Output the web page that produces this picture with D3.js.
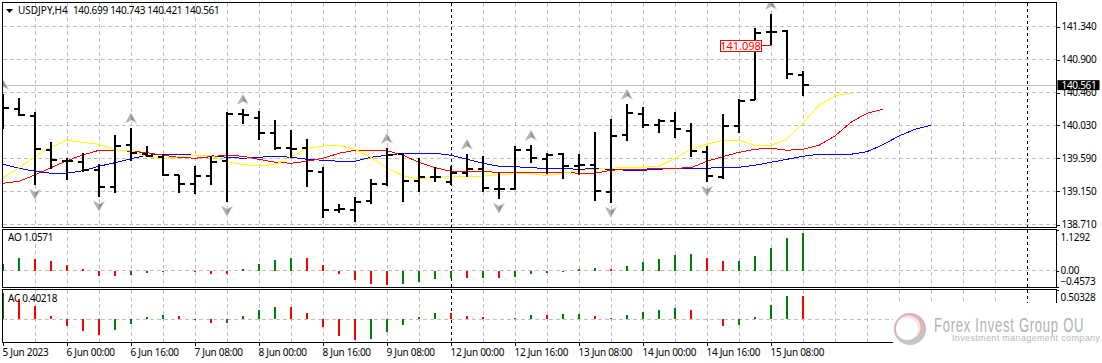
<!DOCTYPE html>
<meta charset="utf-8">
<title>USDJPY,H4</title>
<style>
html, body { margin: 0; padding: 0; background: #fff; overflow: hidden; }
svg { display: block; }
text { font-family: "Noto Sans", sans-serif; font-size: 10px; fill: #000; letter-spacing: -0.3px; }
.grid { stroke: #c0c0c0; stroke-dasharray: 4,3; shape-rendering: crispEdges; fill: none; }
.sep { stroke: #000; stroke-dasharray: 3,3; shape-rendering: crispEdges; }
.frame { fill: none; stroke: #000; shape-rendering: crispEdges; }
.bar line { stroke: #000; stroke-width: 2; shape-rendering: crispEdges; }
.ma { fill: none; stroke-width: 1; shape-rendering: crispEdges; }
.axis path { display: none; }
.axis line { stroke: #000; shape-rendering: crispEdges; }
</style>
<body>
<svg width="1102" height="363"></svg>
<script src="https://d3js.org/d3.v7.min.js"></script>
<script>

var symbol = "USDJPY,H4";

var opens = [140.260,140.248,140.156,139.704,139.558,139.545,139.438,139.213,139.770,139.651,139.611,139.372,139.252,139.359,139.558,140.182,140.129,139.922,139.727,139.727,139.412,138.907,138.907,139.027,139.252,139.651,139.292,139.345,139.279,139.399,139.452,139.186,139.186,139.696,139.576,139.643,139.492,139.505,139.146,139.903,140.182,140.036,140.089,139.956,139.677,139.345,140.023,140.364,141.263,141.276,140.699];
var highs = [140.437,140.391,140.205,139.806,139.594,139.660,139.514,139.899,139.992,139.753,139.651,139.372,139.488,139.624,140.201,140.240,140.214,140.096,139.966,139.842,139.470,138.987,139.072,139.315,139.723,139.656,139.590,139.470,139.491,139.643,139.616,139.404,139.749,139.762,139.656,139.656,139.643,139.935,140.108,140.307,140.267,140.108,140.201,140.055,139.749,140.174,140.373,141.316,141.502,141.290,140.743];
var lows = [139.972,140.152,139.239,139.452,139.306,139.412,139.080,139.133,139.558,139.611,139.359,139.133,139.120,139.239,139.013,140.049,139.837,139.693,139.590,139.213,138.801,138.867,138.748,138.987,139.226,139.013,139.146,139.279,139.239,139.345,139.146,139.053,139.173,139.523,139.385,139.319,139.372,139.027,139.000,139.824,139.996,139.930,139.863,139.611,139.279,139.319,139.930,140.364,141.098,140.647,140.421];
var closes = [140.251,140.169,139.717,139.571,139.558,139.438,139.213,139.757,139.664,139.624,139.372,139.252,139.359,139.545,140.182,140.169,139.930,139.727,139.713,139.425,138.907,138.920,139.013,139.252,139.638,139.292,139.345,139.345,139.399,139.452,139.199,139.186,139.696,139.590,139.638,139.492,139.505,139.159,139.890,140.195,140.036,140.089,139.983,139.691,139.359,140.023,140.355,141.258,141.271,140.713,140.561];

var lips = [139.328,139.461,139.611,139.740,139.829,139.802,139.776,139.700,139.691,139.611,139.584,139.611,139.630,139.624,139.545,139.505,139.488,139.507,139.603,139.723,139.753,139.762,139.709,139.603,139.457,139.359,139.311,139.345,139.351,139.351,139.351,139.372,139.385,139.385,139.359,139.391,139.425,139.444,139.457,139.470,139.470,139.484,139.590,139.709,139.776,139.829,139.829,139.762,139.762,139.842,140.055,140.294,140.421,140.457];
var teeth = [139.258,139.284,139.368,139.465,139.558,139.634,139.696,139.696,139.683,139.664,139.630,139.603,139.590,139.611,139.630,139.616,139.576,139.537,139.523,139.550,139.590,139.656,139.696,139.696,139.691,139.630,139.537,139.465,139.417,139.412,139.412,139.404,139.404,139.404,139.404,139.404,139.391,139.391,139.430,139.444,139.444,139.457,139.457,139.465,139.550,139.611,139.669,139.709,139.723,139.696,139.709,139.762,139.886,140.068,140.187,140.240];
var jaw = [139.510,139.457,139.417,139.391,139.391,139.425,139.484,139.531,139.584,139.630,139.643,139.643,139.630,139.624,139.603,139.590,139.603,139.616,139.603,139.576,139.563,139.550,139.550,139.603,139.630,139.656,139.656,139.656,139.630,139.576,139.523,139.484,139.478,139.465,139.452,139.452,139.444,139.452,139.444,139.430,139.430,139.444,139.457,139.457,139.457,139.470,139.470,139.497,139.537,139.576,139.616,139.643,139.643,139.643,139.677,139.770,139.886,139.975,140.028];

var aoValues = [0.176,0.344,0.316,0.260,0.149,0.037,-0.158,-0.160,-0.130,-0.074,-0.046,-0.019,-0.046,-0.102,-0.105,0.037,0.176,0.288,0.345,0.342,0.149,-0.102,-0.269,-0.381,-0.409,-0.381,-0.325,-0.241,-0.212,-0.216,-0.214,-0.218,-0.186,-0.102,-0.074,-0.046,0.037,0.065,0.037,0.121,0.232,0.316,0.427,0.455,0.344,0.260,0.262,0.399,0.622,0.901,1.0571];
var acValues = [0.454,0.351,0.230,0.057,-0.115,-0.201,-0.270,-0.184,-0.080,0.040,0.075,0.057,-0.017,-0.063,-0.061,0.057,0.161,0.213,0.212,0.109,-0.132,-0.287,-0.356,-0.339,-0.218,-0.098,0.040,0.109,0.108,0.057,0.040,0.006,0.023,0.075,0.074,0.092,0.094,0.057,0.023,0.075,0.126,0.161,0.195,0.161,0.006,-0.115,-0.098,0.040,0.247,0.404,0.40218];

var fractalsUp = [0,8,15,24,29,33,39,48];
var fractalsDown = [2,6,14,22,31,38,44];

var priceTicks = [141.34,140.90,140.46,140.03,139.59,139.15,138.71];
var aoTicks = [1.1292,0,-0.4573];
var acTicks = [0.50328];
var timeTicks = [0,4,8,12,16,20,24,28,32,36,40,44,48];
var timeLabels = ["5 Jun 2023","6 Jun 00:00","6 Jun 16:00","7 Jun 08:00","8 Jun 00:00","8 Jun 16:00","9 Jun 08:00","12 Jun 00:00","12 Jun 16:00","13 Jun 08:00","14 Jun 00:00","14 Jun 16:00","15 Jun 08:00"];
var separators = [28,64];

var lastPrice = 140.561, pointerPrice = 141.098, pointerBar = 48;

var svg = d3.select("svg");
var left = 2.5, right = 1056.5;
var main = {top: 2.5, bottom: 227.5}, ao = {top: 229.5, bottom: 287.5}, ac = {top: 289.5, bottom: 342.5};

var x = d3.scaleLinear().domain([0,1]).range([3,19]);
var y = d3.scaleLinear().domain([138.71,141.34]).range([224.5,26.5]);
var yAo = d3.scaleLinear().domain([-0.4573,1.1292]).range([287,230]);
var yAc = d3.scaleLinear().domain([0,0.50328]).range([319.3,290.1]);

var defs = svg.append("defs");
defs.append("clipPath").attr("id","clipMain").append("rect")
  .attr("x",left).attr("y",main.top).attr("width",right-left).attr("height",main.bottom-main.top);

// grid
var grid = svg.append("g");
var gridBars = d3.range(2,64,2).filter(function(d) { return separators.indexOf(d) < 0; });
[main,ao,ac].forEach(function(p) {
  grid.selectAll(null).data(gridBars).enter().append("line").attr("class","grid")
    .attr("x1",x).attr("x2",x).attr("y1",p.top).attr("y2",p.bottom);
  grid.selectAll(null).data(separators).enter().append("line").attr("class","sep")
    .attr("x1",x).attr("x2",x).attr("y1",p.top).attr("y2",p.bottom);
});
grid.selectAll(null).data(priceTicks).enter().append("line").attr("class","grid")
  .attr("x1",left).attr("x2",right).attr("y1",y).attr("y2",y);
[yAo(0),yAc(0)].forEach(function(v) {
  grid.append("line").attr("class","grid").attr("x1",left).attr("x2",right).attr("y1",v).attr("y2",v);
});

// last price line
svg.append("line").attr("x1",left).attr("x2",right).attr("y1",y(lastPrice)).attr("y2",y(lastPrice))
  .attr("stroke","#c0c0c0").attr("shape-rendering","crispEdges");

// alligator lines
var maLine = d3.line().x(function(d,i) { return x(i); }).y(function(d) { return y(d); });
var chart = svg.append("g").attr("clip-path","url(#clipMain)");
[[jaw,"#0000ff"],[teeth,"#ff0000"],[lips,"#ffff00"]].forEach(function(s) {
  chart.append("path").attr("class","ma").attr("d",maLine(s[0])).attr("stroke",s[1]);
});

// ohlc bars
var bars = chart.selectAll(".bar").data(highs).enter().append("g").attr("class","bar");
bars.append("line").attr("x1",function(d,i){return x(i);}).attr("x2",function(d,i){return x(i);})
  .attr("y1",function(d){return y(d);}).attr("y2",function(d,i){return y(lows[i]);});
bars.append("line").attr("x1",function(d,i){return x(i)-5;}).attr("x2",function(d,i){return x(i);})
  .attr("y1",function(d,i){return y(opens[i]);}).attr("y2",function(d,i){return y(opens[i]);});
bars.append("line").attr("x1",function(d,i){return x(i);}).attr("x2",function(d,i){return x(i)+6;})
  .attr("y1",function(d,i){return y(closes[i]);}).attr("y2",function(d,i){return y(closes[i]);});

// fractal arrows
var arrow = "M0,-5.5L5.5,4.5L0,1.5L-5.5,4.5Z";
var arrowL = "M0,-5.5L0,1.5L-5.5,4.5Z";
function fractal(list, price, offset, flip) {
  var g = chart.selectAll(null).data(list).enter().append("g")
    .attr("transform",function(d) { return "translate("+x(d)+","+(y(price[d])+offset)+")"+(flip?" scale(1,-1)":""); });
  g.append("path").attr("d",arrow).attr("fill","#8a8f96").attr("stroke","#cfdcea").attr("stroke-width",0.8);
  g.append("path").attr("d",arrowL).attr("fill","#bfae9a");
}
fractal(fractalsUp,highs,-9.5,false);
fractal(fractalsDown,lows,9,true);

// pointer label on the bar 48 low
var px = x(pointerBar), py = Math.round(y(pointerPrice))+0.5;
svg.append("line").attr("x1",px-10).attr("x2",px).attr("y1",py).attr("y2",py)
  .attr("stroke","#ff0000").attr("shape-rendering","crispEdges");
svg.append("rect").attr("x",px-51).attr("y",py-5.5).attr("width",41).attr("height",11)
  .attr("fill","#fff").attr("stroke","#ff0000").attr("shape-rendering","crispEdges");
svg.append("text").attr("x",px-30.5).attr("y",py+4).attr("text-anchor","middle")
  .style("fill","#ff0000").style("font-size","11px").style("letter-spacing","0").text(d3.format(".3f")(pointerPrice));

// sub windows
function histogram(values, scale) {
  svg.append("g").selectAll("rect").data(values).enter().append("rect")
    .attr("x",function(d,i) { return x(i)-1; })
    .attr("width",2)
    .attr("y",function(d) { return Math.min(scale(d),scale(0)); })
    .attr("height",function(d) { return Math.abs(scale(d)-scale(0)); })
    .attr("fill",function(d,i) { return i == 0 || d > values[i-1] ? "#008000" : "#ff0000"; })
    .attr("shape-rendering","crispEdges");
}
histogram(aoValues,yAo);
histogram(acValues,yAc);

// frames
[main,ao,ac].forEach(function(p) {
  svg.append("rect").attr("class","frame").attr("x",left).attr("y",p.top)
    .attr("width",right-left).attr("height",p.bottom-p.top);
});

// axes
var axisPrice = d3.axisRight(y).tickValues(priceTicks).tickSize(3).tickPadding(2).tickFormat(d3.format(".3f"));
svg.append("g").attr("class","axis").attr("transform","translate("+right+",0)").call(axisPrice);
var axisAo = d3.axisRight(yAo).tickValues(aoTicks).tickSize(2).tickPadding(2)
  .tickFormat(function(d) { return d == 0 ? "0.00" : d3.format(".4f")(d); });
var gAo = svg.append("g").attr("class","axis").attr("transform","translate("+right+",0)").call(axisAo);
gAo.selectAll("text").attr("dy",function(d) { return d > 0 ? "1.0em" : d < 0 ? "-0.3em" : "0.32em"; });
var axisAc = d3.axisRight(yAc).tickValues(acTicks).tickSize(2).tickPadding(2).tickFormat(d3.format(".5f"));
var gAc = svg.append("g").attr("class","axis").attr("transform","translate("+right+",0)").call(axisAc);
gAc.selectAll("text").attr("dy","1.0em");
var axisTime = d3.axisBottom(x).tickValues(timeTicks).tickSize(3).tickPadding(3)
  .tickFormat(function(d,i) { return timeLabels[i]; });
var gTime = svg.append("g").attr("class","axis").attr("transform","translate(0,"+ac.bottom+")").call(axisTime);
gTime.selectAll("text").attr("text-anchor","start").attr("x",-1);

// last price tag
svg.append("rect").attr("x",right+1).attr("y",y(lastPrice)-5).attr("width",42).attr("height",10).attr("fill","#000");
svg.append("text").attr("x",right+5).attr("y",y(lastPrice)+3.5).style("fill","#fff").text(d3.format(".3f")(lastPrice));

// window titles
svg.append("path").attr("d","M6,9L13,9L9.5,13Z").attr("fill","#000");
var title = svg.append("text").attr("x",18).attr("y",14).attr("xml:space","preserve");
title.append("tspan").style("letter-spacing","0").text(symbol+"  ");
title.append("tspan").text([opens[50],highs[50],lows[50],closes[50]].map(d3.format(".3f")).join(" "));
svg.append("text").attr("x",8).attr("y",241).text("AO "+aoValues[50]);
svg.append("text").attr("x",8).attr("y",302).text("AC "+acValues[50]);

// logo block covers the corner of the chart
svg.append("rect").attr("x",893).attr("y",303).attr("width",209).attr("height",60).attr("fill","#fff");
var logo = svg.append("g").attr("transform","translate(910,329)");
logo.append("circle").attr("r",16).attr("fill","#c4c4c4");
logo.append("path").attr("d",d3.arc()({innerRadius:10,outerRadius:16,startAngle:-1.9,endAngle:1.7})).attr("fill","#e0b4b4");
logo.append("circle").attr("r",12).attr("cy",-1.5).attr("cx",-1.5).attr("fill","#f6e4e4");
logo.append("circle").attr("r",11).attr("cy",0).attr("cx",-3).attr("fill","#fff");
svg.append("text").attr("transform","translate(934,332) scale(0.62,1)")
  .style("font-size","21px").style("font-family","'Liberation Sans'").style("letter-spacing","1.2px").style("fill","#b0b0b0").text("Forex Invest Group OU");
svg.append("text").attr("x",952).attr("y",341)
  .style("font-size","9px").style("font-family","'Liberation Sans'").style("letter-spacing","0.35px").style("fill","#b8b8b8").text("Investment management company");

</script>
</body>
